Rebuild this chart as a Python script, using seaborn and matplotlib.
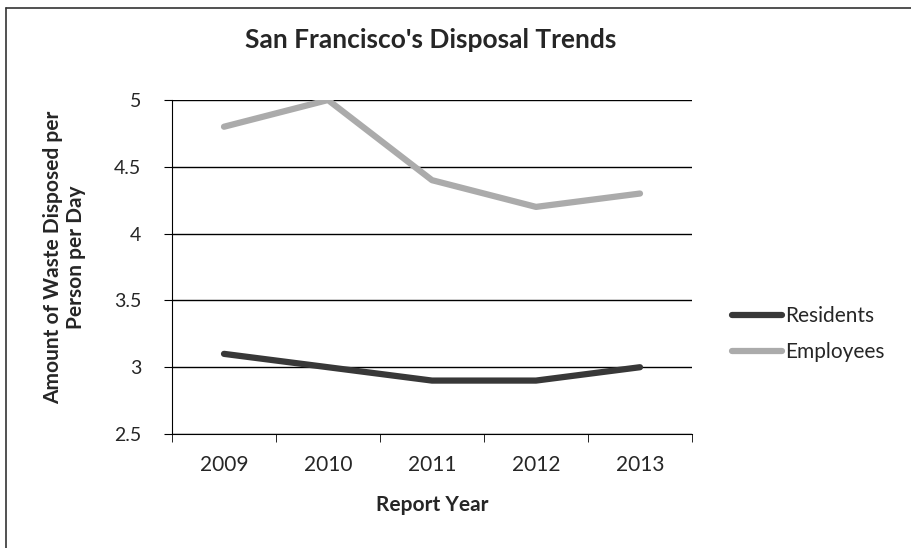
import matplotlib
matplotlib.use("Agg")
import matplotlib.pyplot as plt
import seaborn as sns
import pandas as pd

# data
years = ["2009", "2010", "2011", "2012", "2013"]
residents = [3.1, 3.0, 2.9, 2.9, 3.0]
employees = [4.8, 5.0, 4.4, 4.2, 4.3]
series_names = ["Residents", "Employees"]
y_ticks = [2.5, 3, 3.5, 4, 4.5, 5]
y_tick_labels = ["2.5", "3", "3.5", "4", "4.5", "5"]

df = pd.DataFrame({
    "Year": years * 2,
    "Value": residents + employees,
    "Series": [series_names[0]] * len(years) + [series_names[1]] * len(years),
})

sns.set_style("white")
plt.rcParams["font.family"] = ["Lato", "DejaVu Sans"]

fig = plt.figure(figsize=(9.11, 5.48), dpi=100)
ax = fig.add_axes([0.1888, 0.208, 0.5708, 0.6095])

colors = {"Residents": "#383838", "Employees": "#ababab"}
sns.lineplot(data=df, x="Year", y="Value", hue="Series", sort=False,
             palette=colors, linewidth=4.5, ax=ax, legend=False)

ax.set_xlim(-0.5, len(years) - 0.5)
ax.set_ylim(2.5, 5)
ax.set_yticks(y_ticks)
ax.set_yticklabels(y_tick_labels, fontsize=14)
ax.set_xticks(range(len(years)))
ax.set_xticklabels(years, fontsize=15)
ax.set_xticks([i - 0.5 for i in range(len(years) + 1)], minor=True)
ax.tick_params(axis="x", which="major", length=0, pad=15)
ax.tick_params(axis="x", which="minor", length=6, direction="out", color="black", bottom=True)
ax.tick_params(axis="y", length=6, direction="out", color="black", left=True, pad=16)
ax.grid(axis="y", color="black", linewidth=1)
ax.set_axisbelow(True)

for side in ["top", "right"]:
    ax.spines[side].set_visible(False)
ax.spines["left"].set_color("black")
ax.spines["bottom"].set_color("black")

fig.text(0.473, 0.927, "San Francisco's Disposal Trends", fontsize=19,
         fontweight="bold", ha="center", va="center")
ax.set_xlabel("Report Year", fontsize=15, fontweight="bold", va="center")
ax.xaxis.set_label_coords(0.5, -0.213)
ax.set_ylabel("Amount of Waste Disposed per\nPerson per Day", fontsize=15,
              fontweight="bold", va="center")
ax.yaxis.set_label_coords(-0.206, 0.53)

handles = [plt.Line2D([], [], color=colors["Residents"], linewidth=4.5),
           plt.Line2D([], [], color=colors["Employees"], linewidth=4.5)]
fig.legend(handles, series_names, loc="center left", bbox_to_anchor=(0.783, 0.39),
           frameon=False, fontsize=15, handlelength=2.4, handletextpad=0.15,
           labelspacing=0.75)

# chart frame: only the top and left edges are inside the picture
fig.add_artist(plt.Line2D([0.0066, 0.0066], [0.0, 0.986], transform=fig.transFigure,
                          color="#333333", linewidth=1.2))
fig.add_artist(plt.Line2D([0.0066, 1.0], [0.986, 0.986], transform=fig.transFigure,
                          color="#333333", linewidth=1.2))

fig.savefig("out.png", dpi=100)
